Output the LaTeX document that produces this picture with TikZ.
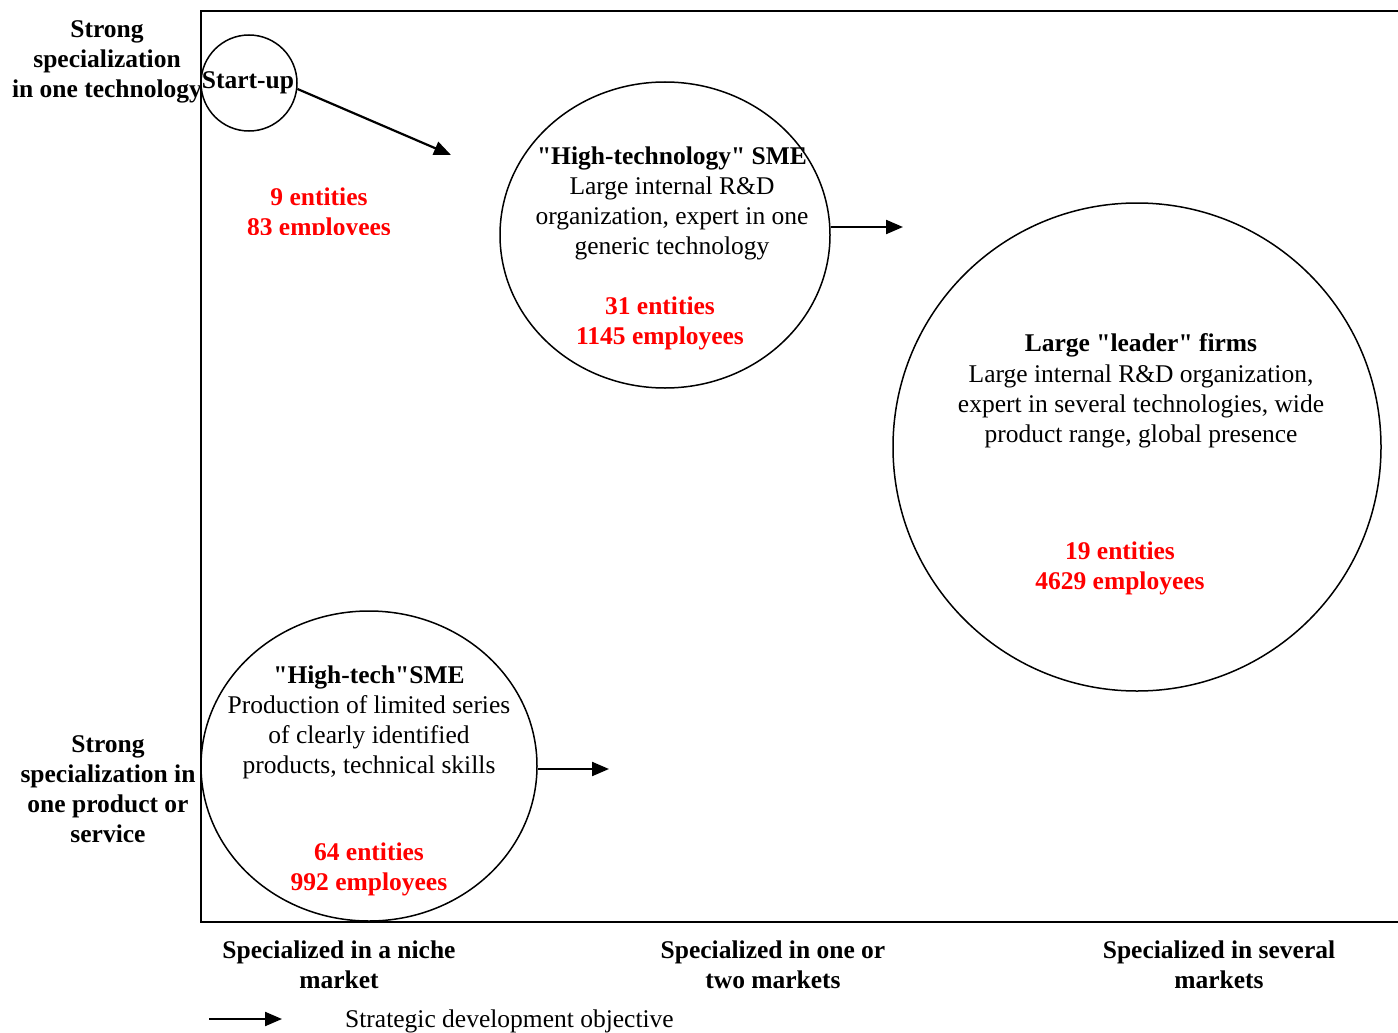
\documentclass[tikz,border=0pt]{standalone}
\usepackage{fontspec}
\setmainfont{Liberation Serif}[Ligatures=TeXOff]
\usetikzlibrary{arrows.meta,shapes.geometric}
\begin{document}
\begin{tikzpicture}[x=1pt,y=-1pt,
  bubble/.style={draw, line width=1.5pt, ellipse, inner sep=0pt},
  devarrow/.style={line width=2.2pt, -{Triangle[length=17pt,width=14pt]}},
  axislab/.style={font=\fontsize{25.5}{30}\selectfont\bfseries, align=center, inner sep=0pt},
  body/.style={font=\fontsize{25.5}{30}\selectfont, align=center, inner sep=0pt},
  heading/.style={font=\fontsize{25.5}{30}\selectfont\bfseries, align=center, inner sep=0pt},
  count/.style={font=\fontsize{25.5}{30}\selectfont\bfseries, text=red, align=center, inner sep=0pt}]
\useasboundingbox (0,0) rectangle (1398,1033);

% frame of the positioning map
\draw[line width=1.5pt] (1400,11) -- (201,11) -- (201,922) -- (1400,922);

% bubbles
\node[bubble, minimum width=96, minimum height=96] (start) at (249,83) {};
\node[bubble, minimum width=330, minimum height=306] (sme1) at (665,235) {};
\node[bubble, minimum width=488, minimum height=488] (leader) at (1137,447) {};
\node[bubble, minimum width=336, minimum height=310] (sme2) at (369,766) {};

% start-up
\node[heading] (tstart) at (248,83) {Start-up};
\begin{scope}
  \clip (220,175) rectangle (430,234);
  \node[count] (cstart) at (319,214) {9 entities\\83 employees};
\end{scope}

% high-technology SME
\node[heading] (tsme1) at (672,158) {"High-technology" SME};
\node[body] (bsme1) at (672,218) {Large internal R\&D\\organization, expert in one\\generic technology};
\node[count] (csme1) at (660,323) {31 entities\\1145 employees};

% large leader firms
\node[heading] (tleader) at (1141,345) {Large "leader" firms};
\node[body] (bleader) at (1141,406) {Large internal R\&D organization,\\expert in several technologies, wide\\product range, global presence};
\node[count] (cleader) at (1120,568) {19 entities\\4629 employees};

% high-tech SME
\node[heading] (tsme2) at (369,677) {"High-tech"SME};
\node[body] (bsme2) at (369,737) {Production of limited series\\of clearly identified\\products, technical skills};
\node[count] (csme2) at (369,869) {64 entities\\992 employees};

% development arrows
\coordinate (e1) at (451,155);
\coordinate (e2) at (903,227);
\coordinate (e3) at (609,769);
\draw[devarrow] (start.-7) -- (e1);
\draw[devarrow] (sme1.east |- e2) -- (e2);
\draw[devarrow] (sme2.east |- e3) -- (e3);

% axis labels
\node[axislab] (ytop) at (107,62) {Strong\\specialization\\in one technology};
\node[axislab] (ybot) at (108,789) {Strong\\specialization in\\one product or\\service};
\node[axislab] (x1) at (339,965) {Specialized in a niche\\market};
\node[axislab] (x2) at (773,965) {Specialized in one or\\two markets};
\node[axislab] (x3) at (1219,965) {Specialized in several\\markets};

% legend
\coordinate (l1) at (209,1019);
\coordinate (l2) at (282,1019);
\draw[devarrow] (l1) -- (l2);
\node[body, anchor=west] (legend) at (345,1021) {Strategic development objective};
\end{tikzpicture}
\end{document}
